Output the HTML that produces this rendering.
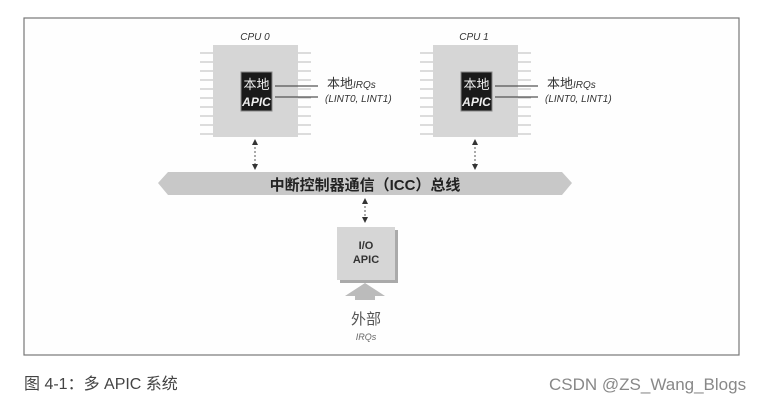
<!DOCTYPE html>
<html><head><meta charset="utf-8"><style>
body{margin:0;background:#fff;}
svg text{font-family:"Liberation Sans","Noto Sans CJK SC",sans-serif;}
</style></head><body>
<svg width="762" height="408" viewBox="0 0 762 408" xmlns="http://www.w3.org/2000/svg">
<rect x="0" y="0" width="762" height="408" fill="#fff"/>
<rect x="24" y="18" width="715" height="337" fill="#fefefe" stroke="#777" stroke-width="1.2"/>
<defs>
<g id="chip">
<rect x="0" y="0" width="85" height="92" fill="#d6d6d6"/>
<g stroke="#bbb" stroke-width="1">
<line x1="-13" y1="8" x2="0" y2="8"/><line x1="-13" y1="17" x2="0" y2="17"/><line x1="-13" y1="26" x2="0" y2="26"/><line x1="-13" y1="35" x2="0" y2="35"/><line x1="-13" y1="44" x2="0" y2="44"/><line x1="-13" y1="53" x2="0" y2="53"/><line x1="-13" y1="62" x2="0" y2="62"/><line x1="-13" y1="71" x2="0" y2="71"/><line x1="-13" y1="80" x2="0" y2="80"/><line x1="-13" y1="89" x2="0" y2="89"/>
<line x1="85" y1="8" x2="98" y2="8"/><line x1="85" y1="17" x2="98" y2="17"/><line x1="85" y1="26" x2="98" y2="26"/><line x1="85" y1="35" x2="98" y2="35"/><line x1="85" y1="44" x2="98" y2="44"/><line x1="85" y1="53" x2="98" y2="53"/><line x1="85" y1="62" x2="98" y2="62"/><line x1="85" y1="71" x2="98" y2="71"/><line x1="85" y1="80" x2="98" y2="80"/><line x1="85" y1="89" x2="98" y2="89"/>
</g>
<rect x="28" y="27" width="31" height="39" fill="#1a1a1a" stroke="#888" stroke-width="1"/>
<text x="43.5" y="44" font-size="13" fill="#eee" text-anchor="middle">本地</text>
<text x="43.5" y="61" font-size="12" fill="#eee" text-anchor="middle" font-style="italic" font-weight="bold">APIC</text>
<line x1="62" y1="41" x2="105" y2="41" stroke="#555" stroke-width="1.2"/>
<line x1="62" y1="52" x2="105" y2="52" stroke="#555" stroke-width="1.2"/>
<text x="114" y="43" font-size="13" fill="#333">本地<tspan font-size="10" font-style="italic">IRQs</tspan></text>
<text x="112" y="57" font-size="10" fill="#333" font-style="italic">(LINT0, LINT1)</text>
<line x1="42" y1="98" x2="42" y2="120" stroke="#555" stroke-width="1" stroke-dasharray="2,2"/>
<polygon points="39,100 45,100 42,94" fill="#333"/>
<polygon points="39,119 45,119 42,125" fill="#333"/>
</g>
</defs>
<text x="255" y="40" font-size="10" fill="#333" text-anchor="middle" font-style="italic">CPU 0</text>
<text x="474" y="40" font-size="10" fill="#333" text-anchor="middle" font-style="italic">CPU 1</text>
<use href="#chip" x="213" y="45"/>
<use href="#chip" x="433" y="45"/>
<polygon points="158,183 168,172 562,172 572,183 562,195 168,195" fill="#c8c8c8"/>
<text x="365" y="190" font-size="15" font-weight="bold" fill="#222" text-anchor="middle">中断控制器通信（ICC）总线</text>
<line x1="365" y1="202" x2="365" y2="218" stroke="#555" stroke-width="1" stroke-dasharray="2,2"/>
<polygon points="362,204 368,204 365,198" fill="#333"/>
<polygon points="362,217 368,217 365,223" fill="#333"/>
<rect x="340" y="230" width="58" height="53" fill="#aaa"/>
<rect x="337" y="227" width="58" height="53" fill="#d6d6d6"/>
<text x="366" y="249" font-size="11" font-weight="bold" fill="#333" text-anchor="middle">I/O</text>
<text x="366" y="263" font-size="11" font-weight="bold" fill="#333" text-anchor="middle">APIC</text>
<polygon points="345,296 365,283 385,296 375,296 375,300 355,300 355,296" fill="#bbb"/>
<text x="366" y="324" font-size="15" fill="#555" text-anchor="middle">外部</text>
<text x="366" y="340" font-size="9" fill="#666" text-anchor="middle" font-style="italic">IRQs</text>
<text x="24" y="389" font-size="16" fill="#444">图 4-1：多 APIC 系统</text>
<text x="549" y="390" font-size="17" fill="#888">CSDN @ZS_Wang_Blogs</text>
</svg>
</body></html>
